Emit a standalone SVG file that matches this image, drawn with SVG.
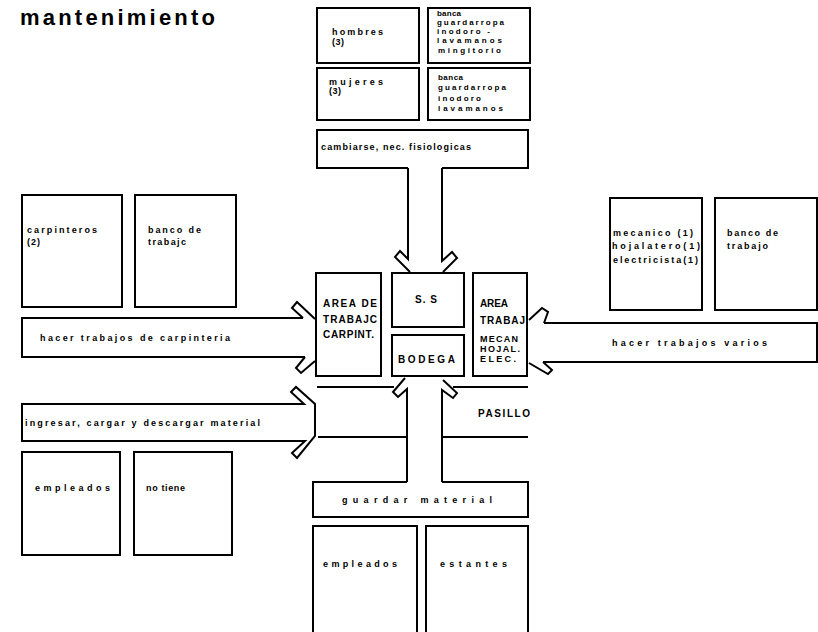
<svg xmlns="http://www.w3.org/2000/svg" width="818" height="632" viewBox="0 0 818 632">
  <style>
    .box { fill: none; stroke: #000; stroke-width: 2; }
    .ln { fill: none; stroke: #000; stroke-width: 2; stroke-linejoin: miter; }
    .t { font-family: "Liberation Sans", Arial, sans-serif; font-weight: bold; font-size: 9px; fill: #000; }
    .s { font-family: "Liberation Sans", Arial, sans-serif; font-weight: bold; font-size: 8px; fill: #000; }
    .c { font-family: "Liberation Sans", Arial, sans-serif; font-weight: bold; font-size: 10px; fill: #000; }
    .m { font-family: "Liberation Sans", Arial, sans-serif; font-weight: bold; font-size: 9px; fill: #000; }
    .title { font-family: "Liberation Sans", Arial, sans-serif; font-weight: bold; font-size: 22px; fill: #000; }
  </style>
  <rect width="818" height="632" fill="#fff"/>

  <text class="title" x="20" y="25" textLength="195" lengthAdjust="spacing">mantenimiento</text>

  <!-- top: restrooms -->
  <g id="hombres">
    <rect class="box" x="317" y="8" width="102" height="55"/>
    <text class="t" x="332" y="35" textLength="51" lengthAdjust="spacing">hombres</text>
    <text class="t" x="332" y="45" textLength="12" lengthAdjust="spacing">(3)</text>
  </g>
  <g id="equipo-hombres">
    <rect class="box" x="428" y="8" width="102" height="55"/>
    <text class="s" x="437" y="16" textLength="24" lengthAdjust="spacing">banca</text>
    <text class="s" x="437" y="25" textLength="67" lengthAdjust="spacing">guardarropa</text>
    <text class="s" x="437" y="34" textLength="53" lengthAdjust="spacing">inodoro  -</text>
    <text class="s" x="437" y="43" textLength="65" lengthAdjust="spacing">lavamanos</text>
    <text class="s" x="438" y="53" textLength="63" lengthAdjust="spacing">mingitorio</text>
  </g>
  <g id="mujeres">
    <rect class="box" x="317" y="68" width="102" height="52"/>
    <text class="t" x="329" y="85" textLength="54" lengthAdjust="spacing">mujeres</text>
    <text class="t" x="329" y="94" textLength="12" lengthAdjust="spacing">(3)</text>
  </g>
  <g id="equipo-mujeres">
    <rect class="box" x="428" y="68" width="102" height="52"/>
    <text class="s" x="438" y="80" textLength="25" lengthAdjust="spacing">banca</text>
    <text class="s" x="438" y="90" textLength="68" lengthAdjust="spacing">guardarropa</text>
    <text class="s" x="438" y="101" textLength="43" lengthAdjust="spacing">inodoro</text>
    <text class="s" x="438" y="111" textLength="65" lengthAdjust="spacing">lavamanos</text>
  </g>

  <!-- left: carpentry -->
  <g id="carpinteros">
    <rect class="box" x="22" y="195" width="100" height="112"/>
    <text class="t" x="27" y="233" textLength="70" lengthAdjust="spacing">carpinteros</text>
    <text class="t" x="27" y="245" textLength="13" lengthAdjust="spacing">(2)</text>
  </g>
  <g id="banco-carpinteria">
    <rect class="box" x="135" y="195" width="101" height="112"/>
    <text class="t" x="148" y="233" textLength="53" lengthAdjust="spacing">banco de</text>
    <text class="t" x="148" y="245" textLength="38" lengthAdjust="spacing">trabajc</text>
  </g>

  <!-- left bottom: loading -->
  <g id="empleados-carga">
    <rect class="box" x="22" y="452" width="98" height="103"/>
    <text class="t" x="35" y="491" textLength="75" lengthAdjust="spacing">empleados</text>
  </g>
  <g id="no-tiene">
    <rect class="box" x="134" y="452" width="98" height="103"/>
    <text class="t" x="146" y="491" textLength="39" lengthAdjust="spacing">no tiene</text>
  </g>

  <!-- right: mechanics -->
  <g id="mecanicos">
    <rect class="box" x="610" y="198" width="92" height="112"/>
    <text class="t" x="613" y="236" textLength="80" lengthAdjust="spacing">mecanico (1)</text>
    <text class="t" x="612" y="249" textLength="88" lengthAdjust="spacing">hojalatero(1)</text>
    <text class="t" x="613" y="263" textLength="85" lengthAdjust="spacing">electricista(1)</text>
  </g>
  <g id="banco-mecanica">
    <rect class="box" x="715" y="198" width="102" height="112"/>
    <text class="t" x="727" y="236" textLength="51" lengthAdjust="spacing">banco de</text>
    <text class="t" x="727" y="249" textLength="41" lengthAdjust="spacing">trabajo</text>
  </g>

  <!-- centre areas -->
  <g id="area-carpinteria">
    <rect class="box" x="316" y="273" width="65" height="103"/>
    <text class="c" x="323" y="307" textLength="54" lengthAdjust="spacing">AREA DE</text>
    <text class="c" x="323" y="323" textLength="54" lengthAdjust="spacing">TRABAJC</text>
    <text class="c" x="323" y="338" textLength="51" lengthAdjust="spacing">CARPINT.</text>
  </g>
  <g id="ss">
    <rect class="box" x="392" y="273" width="72" height="54"/>
    <text class="c" x="415" y="303" textLength="22" lengthAdjust="spacing">S. S</text>
  </g>
  <g id="bodega">
    <rect class="box" x="392" y="335" width="72" height="41"/>
    <text class="c" x="398" y="363" textLength="57" lengthAdjust="spacing">BODEGA</text>
  </g>
  <g id="area-mecanica">
    <rect class="box" x="473" y="273" width="54" height="103"/>
    <text class="c" x="480" y="307" textLength="28" lengthAdjust="spacing">AREA</text>
    <text class="c" x="480" y="324" textLength="45" lengthAdjust="spacing">TRABAJ</text>
    <text class="m" x="480" y="342" textLength="38" lengthAdjust="spacing">MECAN</text>
    <text class="m" x="480" y="352" textLength="40" lengthAdjust="spacing">HOJAL.</text>
    <text class="m" x="480" y="362" textLength="36" lengthAdjust="spacing">ELEC.</text>
  </g>

  <text class="c" x="478" y="417" textLength="52" lengthAdjust="spacing">PASILLO</text>

  <!-- bottom: storage -->
  <g id="empleados-bodega">
    <path class="box" d="M313,640 V526 H417 V640"/>
    <text class="t" x="323" y="567" textLength="74" lengthAdjust="spacing">empleados</text>
  </g>
  <g id="estantes">
    <path class="box" d="M426,640 V526 H528 V640"/>
    <text class="t" x="440" y="567" textLength="67" lengthAdjust="spacing">estantes</text>
  </g>

  <!-- hollow flow arrows and corridor walls -->
  <g id="connectors">
    <!-- cambiarse, nec. fisiologicas: down into S. S -->
    <path class="ln" d="M408,168 H317 V130 H528 V168 H442"/>
    <path class="ln" d="M408,168 V259 L400,251 L395,257 L410,272"/>
    <path class="ln" d="M442,168 V261 L452,252 L457,258 L443,272"/>

    <!-- hacer trabajos de carpinteria: right into carpentry area -->
    <path class="ln" d="M303,318 H22 V357 H305"/>
    <path class="ln" d="M303,318 L292,308 L297,302 L315,319"/>
    <path class="ln" d="M305,357 L296,368 L301,373 L315,361"/>

    <!-- ingresar, cargar y descargar material: right into corridor -->
    <path class="ln" d="M304,404 H22 V441 H305 L292,453 L297,458 L315,436 V404 L296,387 L291,392 Z"/>

    <!-- hacer trabajos varios: left into mechanics area -->
    <path class="ln" d="M544,323 H817 V362 H543"/>
    <path class="ln" d="M544,323 L548,312 L542,308 L529,320"/>
    <path class="ln" d="M543,362 L552,370 L548,374 L529,363"/>

    <!-- guardar material: up into BODEGA -->
    <path class="ln" d="M407,482 H313 V517 H528 V482 H442"/>
    <path class="ln" d="M407,482 V389 L398,397 L393,392 L405,378"/>
    <path class="ln" d="M442,482 V390 L453,398 L457,393 L443,380"/>

    <!-- corridor walls -->
    <path class="ln" d="M317,387 H394"/>
    <path class="ln" d="M453,387 H528"/>
    <path class="ln" d="M318,437 H407"/>
    <path class="ln" d="M442,437 H528"/>
  </g>

  <text class="t" x="321" y="150" textLength="150" lengthAdjust="spacing">cambiarse, nec. fisiologicas</text>
  <text class="t" x="40" y="341" textLength="190" lengthAdjust="spacing">hacer trabajos de carpinteria</text>
  <text class="t" x="25" y="426" textLength="235" lengthAdjust="spacing">ingresar, cargar y descargar material</text>
  <text class="t" x="612" y="346" textLength="155" lengthAdjust="spacing">hacer trabajos varios</text>
  <text class="t" x="342" y="503" textLength="150" lengthAdjust="spacing">guardar material</text>
</svg>
